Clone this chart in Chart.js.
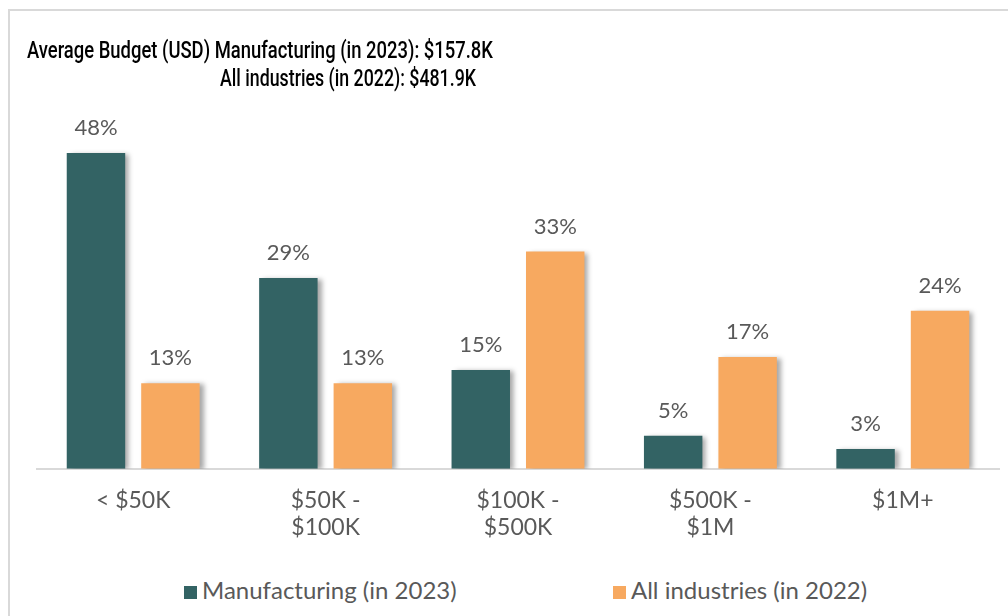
<!DOCTYPE html>
<html>
<head>
<meta charset="utf-8">
<script src="https://cdn.jsdelivr.net/npm/chart.js@4"></script>
<style>
  html, body { margin: 0; padding: 0; background: #fff; }
  #wrap { position: relative; width: 1008px; height: 616px; overflow: hidden; }
  #frame { position: absolute; left: 8px; top: 9px; width: 1100px; height: 700px;
           border-left: 2px solid #d9d9d9; border-top: 2px solid #d9d9d9; }
  #chart { position: absolute; left: 0; top: 0; }
  .title { position: absolute; font-family: Roboto, sans-serif; font-weight: 500;
           font-size: 23px; color: #000; white-space: nowrap; line-height: 1;
           transform-origin: 0 0; }
  #legend { position: absolute; top: 576px; left: 0; width: 1008px; height: 28px;
            font-family: Lato, sans-serif; font-size: 24px; color: #595959; }
  .item { position: absolute; top: 0; white-space: nowrap; line-height: 28px; }
  .item span.box { display: inline-block; width: 13px; height: 13px; margin-right: 5px; vertical-align: 0; }
</style>
</head>
<body>
<div id="wrap">
  <div id="frame"></div>
  <canvas id="chart" width="1008" height="570"></canvas>
  <div class="title" data-w="466" style="left:27px; top:39px;">Average Budget (USD) Manufacturing (in 2023): $157.8K</div>
  <div class="title" data-w="256" style="left:220px; top:67px;">All industries (in 2022): $481.9K</div>
  <div id="legend"></div>
</div>
<script>
// budget ranges and share of respondents (%)
const categories = [['< $50K'], ['$50K -', '$100K'], ['$100K -', '$500K'], ['$500K -', '$1M'], ['$1M+']];
const manufacturing2023 = [48, 29, 15, 5, 3];
const allIndustries2022 = [13, 13, 33, 17, 24];
const seriesNames = ['Manufacturing (in 2023)', 'All industries (in 2022)'];
const seriesColors = ['#336364', '#F7A960'];

// narrow the heading lines to their set widths
document.querySelectorAll('.title').forEach(el => {
    const w = el.getBoundingClientRect().width;
    el.style.transform = 'scaleX(' + (el.dataset.w / w) + ')';
});

// soft drop shadow under the bars, then the percentage labels on top
const barDecor = {
    id: 'barDecor',
    beforeDatasetsDraw(chart) {
        const ctx = chart.ctx;
        ctx.save();
        ctx.shadowColor = 'rgba(0, 0, 0, 0.35)';
        ctx.shadowBlur = 5;
        ctx.shadowOffsetX = 4;
        ctx.shadowOffsetY = 1;
    },
    afterDatasetsDraw(chart) {
        const ctx = chart.ctx;
        ctx.restore();
        ctx.save();
        ctx.font = '22px Lato, sans-serif';
        ctx.fillStyle = '#595959';
        ctx.textAlign = 'center';
        ctx.textBaseline = 'middle';
        chart.data.datasets.forEach((ds, i) => {
            chart.getDatasetMeta(i).data.forEach((bar, j) => {
                ctx.fillText(ds.data[j] + '%', bar.x, bar.y - 25);
            });
        });
        ctx.restore();
    }
};

const ctx = document.getElementById('chart').getContext('2d');
const chart = new Chart(ctx, {
    type: 'bar',
    data: {
        labels: categories,
        datasets: [{
            label: seriesNames[0],
            data: manufacturing2023,
            backgroundColor: seriesColors[0]
        }, {
            label: seriesNames[1],
            data: allIndustries2022,
            backgroundColor: seriesColors[1]
        }]
    },
    options: {
        responsive: false,
        animation: false,
        layout: { padding: { top: 74, left: 37, right: 9, bottom: 19 } },
        categoryPercentage: 0.774,
        barPercentage: 0.785,
        scales: {
            x: {
                grid: { display: false },
                border: { display: true, color: '#d9d9d9', width: 2 },
                ticks: {
                    color: '#595959',
                    font: { family: 'Lato, sans-serif', size: 23, lineHeight: 1.18 },
                    padding: 10,
                    maxRotation: 0,
                    autoSkip: false
                }
            },
            y: {
                display: false,
                min: 0,
                max: 60
            }
        },
        plugins: {
            legend: { display: false },
            tooltip: { enabled: false }
        }
    },
    plugins: [barDecor]
});

// legend built from the chart's datasets
const legend = document.getElementById('legend');
const legendX = [184, 613];
chart.data.datasets.forEach((ds, i) => {
    const item = document.createElement('div');
    item.className = 'item';
    item.style.left = legendX[i] + 'px';
    item.innerHTML = '<span class="box" style="background:' + ds.backgroundColor + '"></span>' + ds.label;
    legend.appendChild(item);
});
</script>
</body>
</html>
